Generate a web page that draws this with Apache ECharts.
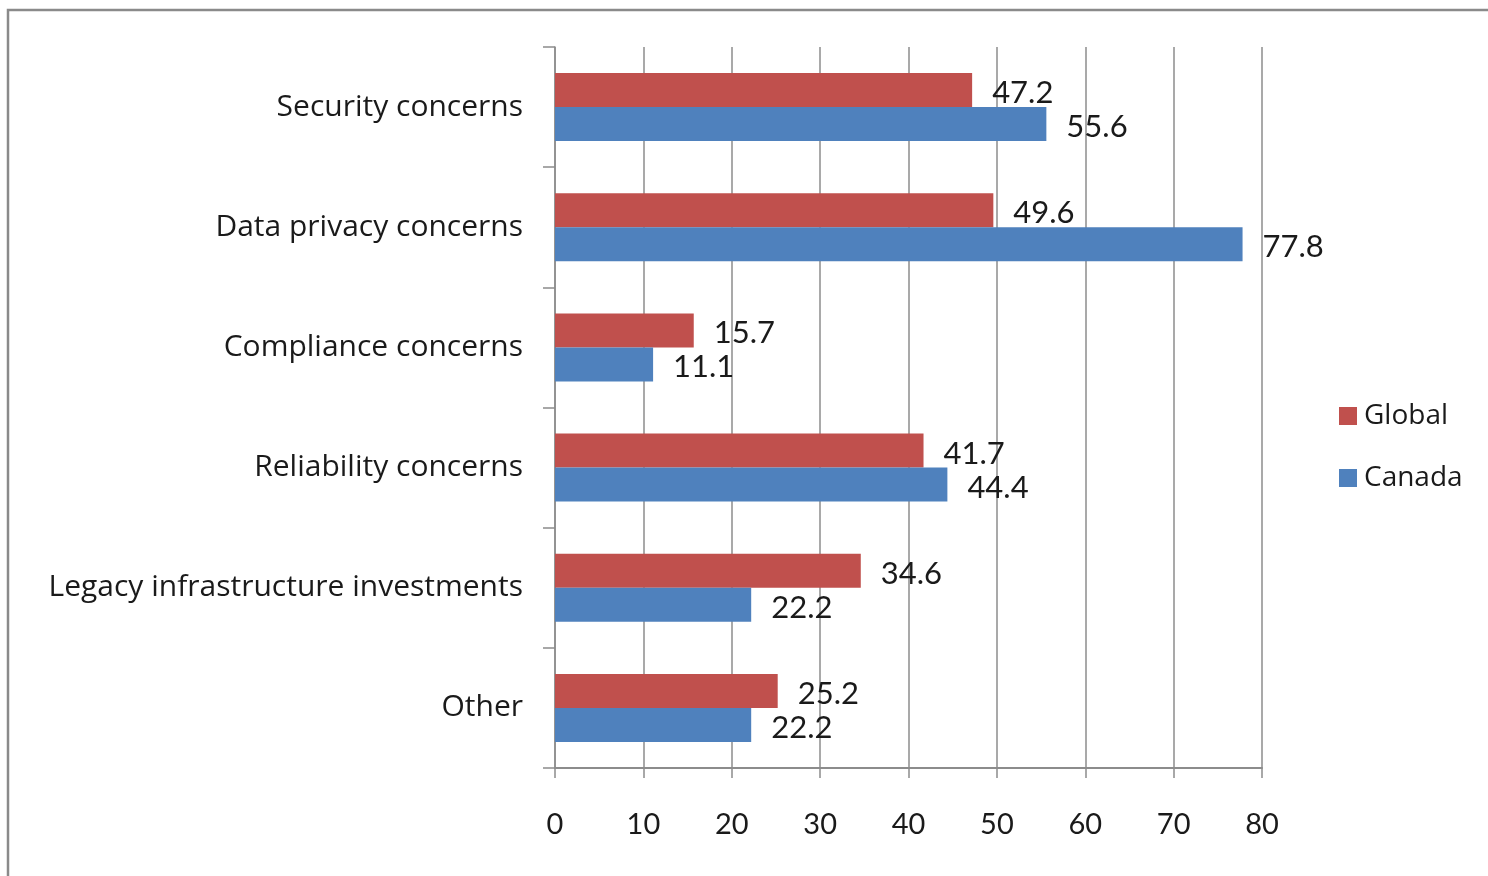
<!DOCTYPE html>
<html>
<head>
<meta charset="utf-8">
<script src="https://cdn.jsdelivr.net/npm/echarts@6/dist/echarts.min.js"></script>
<style>
  html, body { margin: 0; padding: 0; background: #fff; }
  #chart { width: 1488px; height: 876px; }
</style>
</head>
<body>
<div id="chart"></div>
<script>
// Barriers to adoption, percent of respondents
const categories = [
  'Security concerns',
  'Data privacy concerns',
  'Compliance concerns',
  'Reliability concerns',
  'Legacy infrastructure investments',
  'Other'
];
const globalValues = [47.2, 49.6, 15.7, 41.7, 34.6, 25.2];
const canadaValues = [55.6, 77.8, 11.1, 44.4, 22.2, 22.2];
const xTicks = [0, 10, 20, 30, 40, 50, 60, 70, 80];

const TEXT_FONT = '"Open Sans", Lato, sans-serif';
const NUM_FONT = 'Lato, "Open Sans", sans-serif';
const RED = '#C0504D';
const BLUE = '#4F81BD';
const GRID = '#8c8c8c';
const INK = '#1a1a1a';

const chart = echarts.init(document.getElementById('chart'));

const labelStyle = {
  show: true,
  position: 'right',
  distance: 20,
  offset: [0, 3],
  color: INK,
  fontFamily: NUM_FONT,
  fontSize: 31,
  formatter: p => p.value.toFixed(1)
};

chart.setOption({
  animation: false,
  backgroundColor: '#fff',
  graphic: [{
    type: 'rect',
    shape: { x: 8, y: 10, width: 1500, height: 900 },
    style: { fill: 'none', stroke: '#8a8a8a', lineWidth: 2.5 },
    silent: true
  }],
  legend: {
    orient: 'vertical',
    left: 1334,
    top: 397,
    itemWidth: 18,
    itemHeight: 18,
    itemGap: 34,
    icon: 'rect',
    textStyle: { fontFamily: TEXT_FONT, fontSize: 28, color: INK, padding: [0, 0, 0, 2] },
    data: ['Global', 'Canada']
  },
  grid: { left: 555, top: 47, width: 707, height: 721, containLabel: false },
  xAxis: {
    type: 'value',
    min: xTicks[0],
    max: xTicks[xTicks.length - 1],
    interval: 10,
    axisLine: { show: true, lineStyle: { color: GRID, width: 2 } },
    axisTick: { show: true, length: 10, lineStyle: { color: GRID, width: 1.5 } },
    axisLabel: { margin: 42, fontFamily: NUM_FONT, fontSize: 29, color: INK },
    splitLine: { show: true, lineStyle: { color: GRID, width: 1.5 } }
  },
  yAxis: {
    type: 'category',
    inverse: true,
    data: categories,
    axisLine: { show: true, lineStyle: { color: GRID, width: 1.5 } },
    axisTick: { show: true, length: 12, inside: false, lineStyle: { color: GRID, width: 1.5 } },
    axisLabel: { margin: 32, fontFamily: TEXT_FONT, fontSize: 30, color: INK }
  },
  series: [
    {
      name: 'Global',
      type: 'bar',
      data: globalValues,
      barWidth: 34,
      barGap: '0%',
      itemStyle: { color: RED },
      label: labelStyle
    },
    {
      name: 'Canada',
      type: 'bar',
      data: canadaValues,
      barWidth: 34,
      barGap: '0%',
      itemStyle: { color: BLUE },
      label: labelStyle
    }
  ]
});
</script>
</body>
</html>
